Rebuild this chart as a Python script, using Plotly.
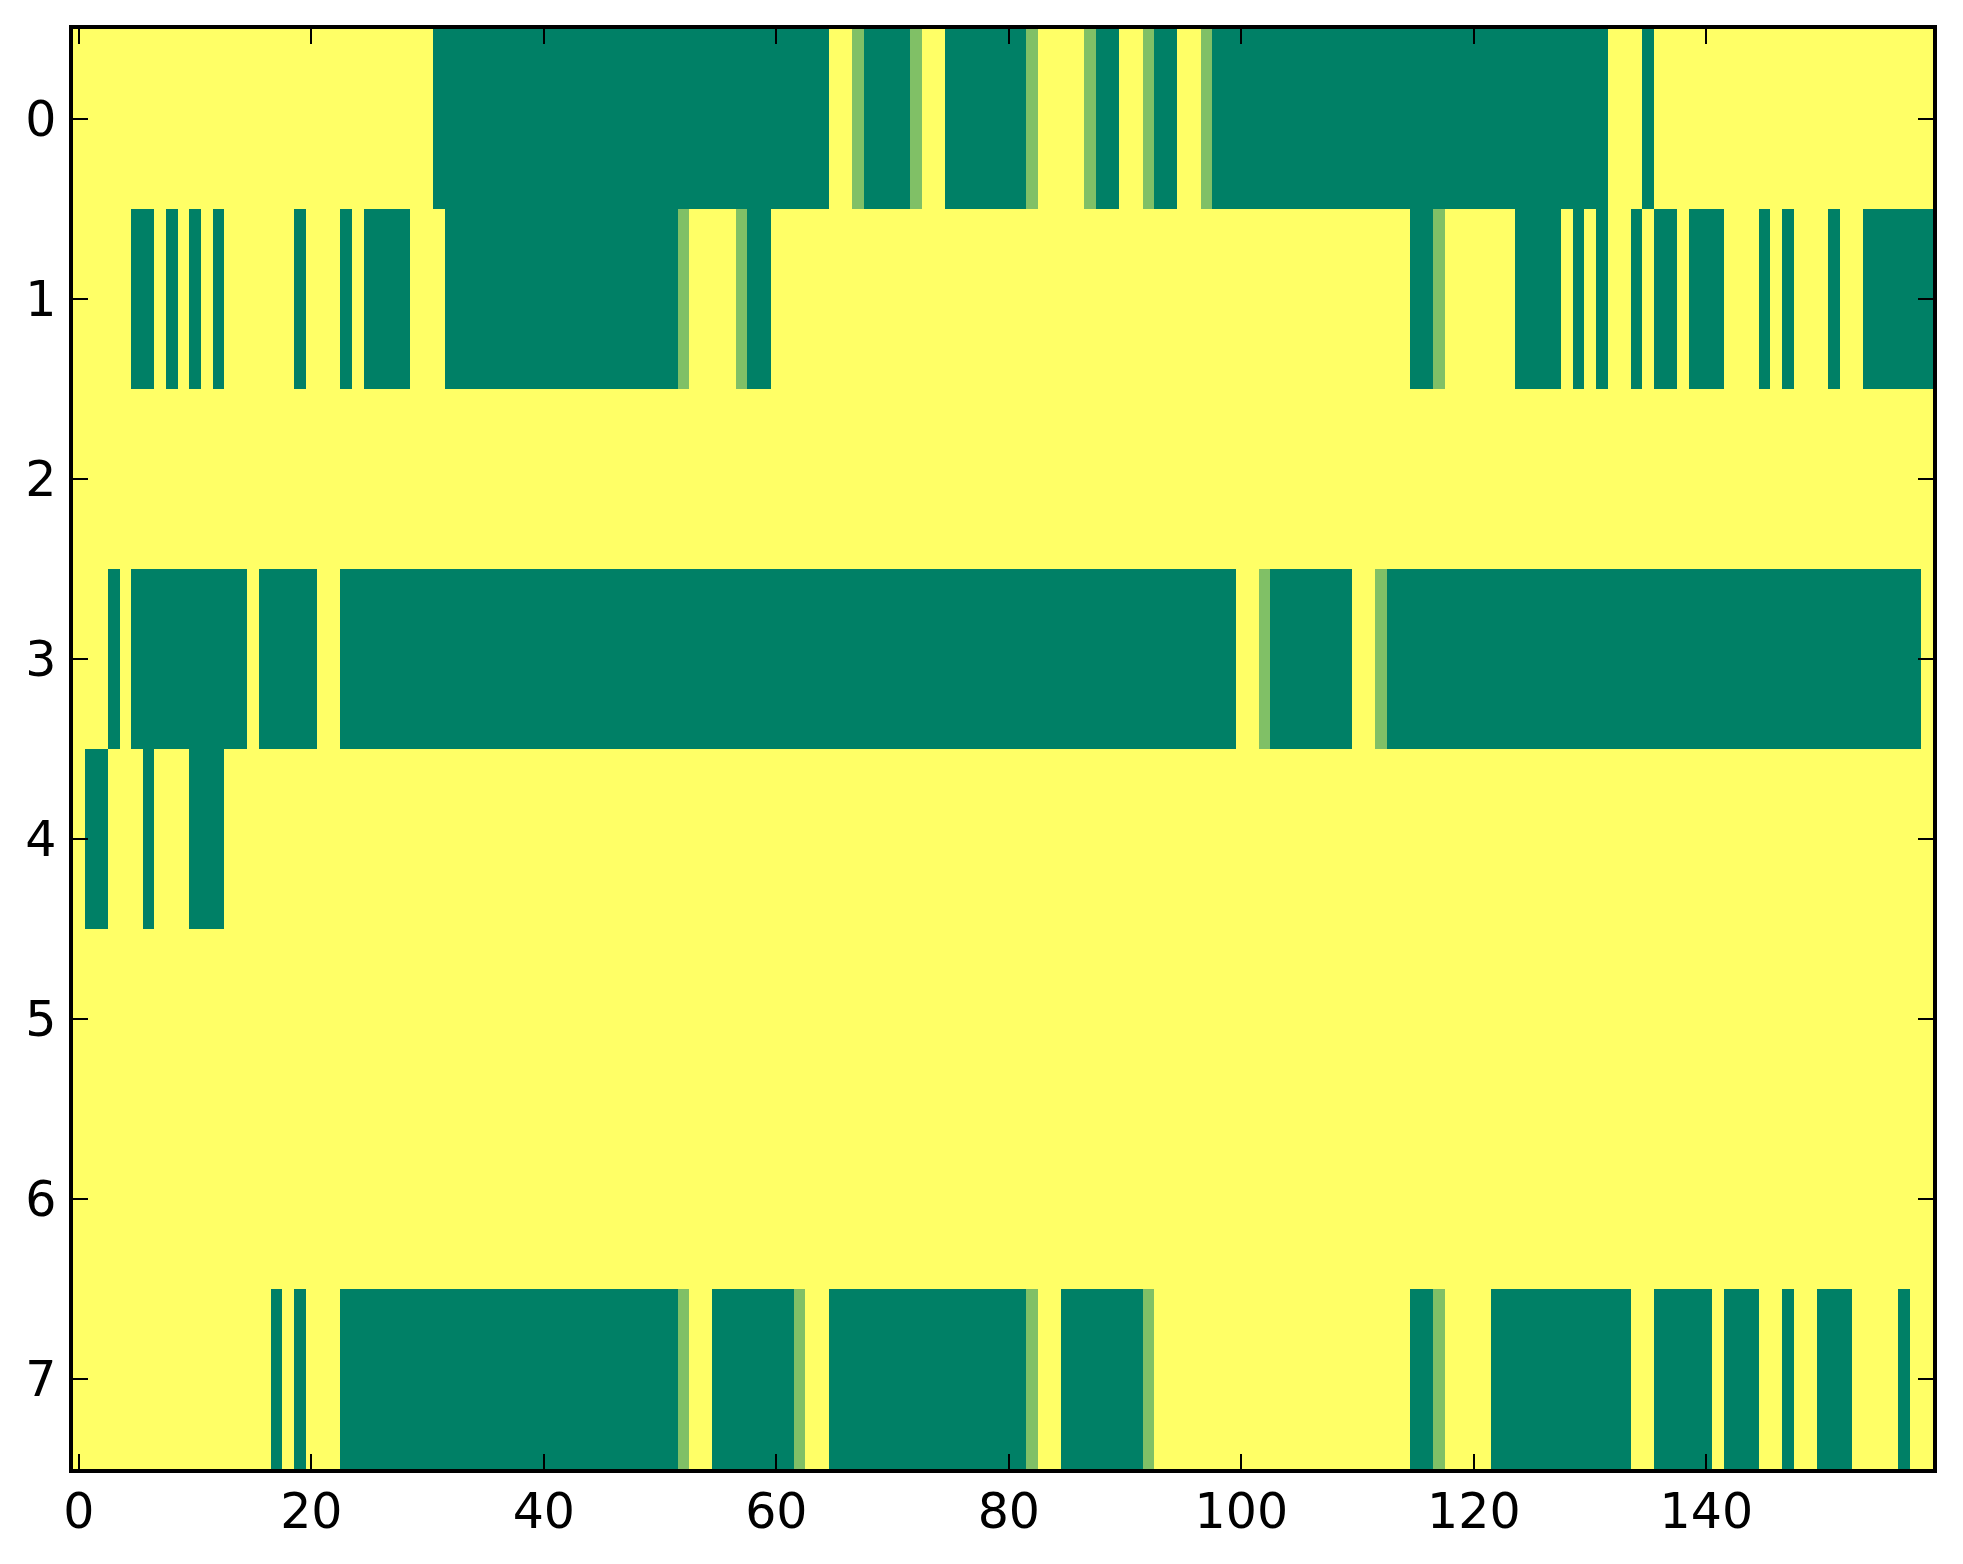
"""Carte binaire (heatmap) - palette summer"""
import plotly.graph_objects as go

# valeurs : 0 = vert, 0.5 = vert clair, 1 = jaune
row0 = [1, 1, 1, 1, 1, 1, 1, 1, 1, 1, 1, 1, 1, 1, 1, 1, 1, 1, 1, 1,
        1, 1, 1, 1, 1, 1, 1, 1, 1, 1, 1, 0, 0, 0, 0, 0, 0, 0, 0, 0,
        0, 0, 0, 0, 0, 0, 0, 0, 0, 0, 0, 0, 0, 0, 0, 0, 0, 0, 0, 0,
        0, 0, 0, 0, 0, 1, 1, .5, 0, 0, 0, 0, .5, 1, 1, 0, 0, 0, 0, 0,
        0, 0, .5, 1, 1, 1, 1, .5, 0, 0, 1, 1, .5, 0, 0, 1, 1, .5, 0, 0,
        0, 0, 0, 0, 0, 0, 0, 0, 0, 0, 0, 0, 0, 0, 0, 0, 0, 0, 0, 0,
        0, 0, 0, 0, 0, 0, 0, 0, 0, 0, 0, 0, 1, 1, 1, 0, 1, 1, 1, 1,
        1, 1, 1, 1, 1, 1, 1, 1, 1, 1, 1, 1, 1, 1, 1, 1, 1, 1, 1, 1]
row1 = [1, 1, 1, 1, 1, 0, 0, 1, 0, 1, 0, 1, 0, 1, 1, 1, 1, 1, 1, 0,
        1, 1, 1, 0, 1, 0, 0, 0, 0, 1, 1, 1, 0, 0, 0, 0, 0, 0, 0, 0,
        0, 0, 0, 0, 0, 0, 0, 0, 0, 0, 0, 0, .5, 1, 1, 1, 1, .5, 0, 0,
        1, 1, 1, 1, 1, 1, 1, 1, 1, 1, 1, 1, 1, 1, 1, 1, 1, 1, 1, 1,
        1, 1, 1, 1, 1, 1, 1, 1, 1, 1, 1, 1, 1, 1, 1, 1, 1, 1, 1, 1,
        1, 1, 1, 1, 1, 1, 1, 1, 1, 1, 1, 1, 1, 1, 1, 0, 0, .5, 1, 1,
        1, 1, 1, 1, 0, 0, 0, 0, 1, 0, 1, 0, 1, 1, 0, 1, 0, 0, 1, 0,
        0, 0, 1, 1, 1, 0, 1, 0, 1, 1, 1, 0, 1, 1, 0, 0, 0, 0, 0, 0]
row2 = [1] * 160
row3 = [1, 1, 1, 0, 1, 0, 0, 0, 0, 0, 0, 0, 0, 0, 0, 1, 0, 0, 0, 0,
        0, 1, 1, 0, 0, 0, 0, 0, 0, 0, 0, 0, 0, 0, 0, 0, 0, 0, 0, 0,
        0, 0, 0, 0, 0, 0, 0, 0, 0, 0, 0, 0, 0, 0, 0, 0, 0, 0, 0, 0,
        0, 0, 0, 0, 0, 0, 0, 0, 0, 0, 0, 0, 0, 0, 0, 0, 0, 0, 0, 0,
        0, 0, 0, 0, 0, 0, 0, 0, 0, 0, 0, 0, 0, 0, 0, 0, 0, 0, 0, 0,
        1, 1, .5, 0, 0, 0, 0, 0, 0, 0, 1, 1, .5, 0, 0, 0, 0, 0, 0, 0,
        0, 0, 0, 0, 0, 0, 0, 0, 0, 0, 0, 0, 0, 0, 0, 0, 0, 0, 0, 0,
        0, 0, 0, 0, 0, 0, 0, 0, 0, 0, 0, 0, 0, 0, 0, 0, 0, 0, 0, 1]
row4 = [1, 0, 0, 1, 1, 1, 0, 1, 1, 1, 0, 0, 0, 1, 1, 1, 1, 1, 1, 1] + [1] * 140
row5 = [1] * 160
row6 = [1] * 160
row7 = [1, 1, 1, 1, 1, 1, 1, 1, 1, 1, 1, 1, 1, 1, 1, 1, 1, 0, 1, 0,
        1, 1, 1, 0, 0, 0, 0, 0, 0, 0, 0, 0, 0, 0, 0, 0, 0, 0, 0, 0,
        0, 0, 0, 0, 0, 0, 0, 0, 0, 0, 0, 0, .5, 1, 1, 0, 0, 0, 0, 0,
        0, 0, .5, 1, 1, 0, 0, 0, 0, 0, 0, 0, 0, 0, 0, 0, 0, 0, 0, 0,
        0, 0, .5, 1, 1, 0, 0, 0, 0, 0, 0, 0, .5, 1, 1, 1, 1, 1, 1, 1,
        1, 1, 1, 1, 1, 1, 1, 1, 1, 1, 1, 1, 1, 1, 1, 0, 0, .5, 1, 1,
        1, 1, 0, 0, 0, 0, 0, 0, 0, 0, 0, 0, 0, 0, 1, 1, 0, 0, 0, 0,
        0, 1, 0, 0, 0, 1, 1, 0, 1, 1, 0, 0, 0, 1, 1, 1, 1, 0, 1, 1]

rows = [row0, row1, row2, row3, row4, row5, row6, row7]
x_vals = list(range(160))
y_vals = list(range(8))
x_ticks = [0, 20, 40, 60, 80, 100, 120, 140]

# palette "summer" de matplotlib
summer = [[0, "#008066"], [1, "#ffff66"]]

fig = go.Figure()
fig.add_trace(go.Heatmap(z=rows, x=x_vals, y=y_vals, colorscale=summer,
                         zmin=0, zmax=1, showscale=False, hoverinfo="skip"))

axis_style = dict(showline=True, linecolor="black", linewidth=3.5, mirror="ticks",
                  ticks="inside", ticklen=15, tickwidth=1.5, tickcolor="black",
                  showgrid=False, zeroline=False,
                  tickfont=dict(family="DejaVu Sans", size=49, color="black"))

fig.update_layout(width=1963, height=1564,
                  margin=dict(l=65, r=38, t=21, b=103),
                  paper_bgcolor="white", plot_bgcolor="white")
fig.update_xaxes(range=[-0.5, 159.5], tickvals=x_ticks, ticklabelstandoff=-4, **axis_style)
fig.update_yaxes(range=[7.5, -0.5], tickvals=y_vals, ticklabelstandoff=3, **axis_style)

fig.write_html("out.html")
